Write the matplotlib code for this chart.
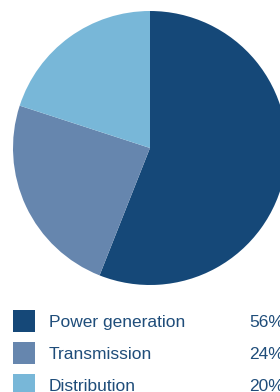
import matplotlib
matplotlib.use('Agg')
import matplotlib.pyplot as plt
from matplotlib.patches import Rectangle

labels = ['Power generation', 'Transmission', 'Distribution']
shares = [56, 24, 20]
colors = ['#154878', '#6686ae', '#78b7d8']
textColor = '#1f4d7a'

fig = plt.figure(figsize=(2.8, 3.92), dpi=100)
ax = fig.add_axes([0, 0, 1, 1])

# pie, clockwise from 12 o'clock
ax.pie(shares, colors=colors, startangle=90, counterclock=False,
       center=(150, 244), radius=137, frame=True,
       wedgeprops={'linewidth': 0})
ax.set_xlim(0, 280)
ax.set_ylim(0, 392)
ax.set_aspect('equal')
ax.axis('off')

# legend rows
for i, (lab, val, col) in enumerate(zip(labels, shares, colors)):
    y = 71 - i * 32
    ax.add_patch(Rectangle((13, y - 11), 22, 22, color=col, linewidth=0))
    ax.text(49, y - 6, lab, fontsize=12.5, color=textColor, va='baseline',
            family='Liberation Sans')
    ax.text(249, y - 6, str(val) + '%', fontsize=12.5, color=textColor,
            va='baseline', family='Liberation Sans')

fig.savefig('out.png', dpi=100)
